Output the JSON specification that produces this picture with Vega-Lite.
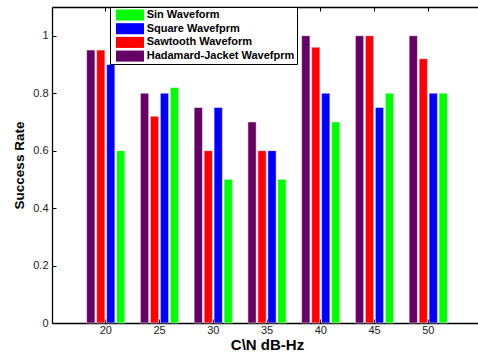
{
  "$schema": "https://vega.github.io/schema/vega-lite/v6.json",
  "width": 426,
  "height": 316,
  "autosize": {"type": "none"},
  "padding": {"left": 52, "top": 7, "right": 0, "bottom": 30},
  "background": "white",
  "config": {
    "view": {"stroke": null},
    "font": "Liberation Sans",
    "axis": {"grid": false, "domainColor": "black", "domainWidth": 1.3, "tickColor": "black", "labelColor": "#222222", "labelFont": "Liberation Sans", "titleFont": "Liberation Sans", "titleColor": "black"}
  },
  "data": {
    "values": [
      {"cn": 20, "series": "Hadamard-Jacket Wavefprm", "rate": 0.95},
      {"cn": 20, "series": "Sawtooth Waveform", "rate": 0.95},
      {"cn": 20, "series": "Square Wavefprm", "rate": 0.9},
      {"cn": 20, "series": "Sin Waveform", "rate": 0.6},
      {"cn": 25, "series": "Hadamard-Jacket Wavefprm", "rate": 0.8},
      {"cn": 25, "series": "Sawtooth Waveform", "rate": 0.72},
      {"cn": 25, "series": "Square Wavefprm", "rate": 0.8},
      {"cn": 25, "series": "Sin Waveform", "rate": 0.82},
      {"cn": 30, "series": "Hadamard-Jacket Wavefprm", "rate": 0.75},
      {"cn": 30, "series": "Sawtooth Waveform", "rate": 0.6},
      {"cn": 30, "series": "Square Wavefprm", "rate": 0.75},
      {"cn": 30, "series": "Sin Waveform", "rate": 0.5},
      {"cn": 35, "series": "Hadamard-Jacket Wavefprm", "rate": 0.7},
      {"cn": 35, "series": "Sawtooth Waveform", "rate": 0.6},
      {"cn": 35, "series": "Square Wavefprm", "rate": 0.6},
      {"cn": 35, "series": "Sin Waveform", "rate": 0.5},
      {"cn": 40, "series": "Hadamard-Jacket Wavefprm", "rate": 1.0},
      {"cn": 40, "series": "Sawtooth Waveform", "rate": 0.96},
      {"cn": 40, "series": "Square Wavefprm", "rate": 0.8},
      {"cn": 40, "series": "Sin Waveform", "rate": 0.7},
      {"cn": 45, "series": "Hadamard-Jacket Wavefprm", "rate": 1.0},
      {"cn": 45, "series": "Sawtooth Waveform", "rate": 1.0},
      {"cn": 45, "series": "Square Wavefprm", "rate": 0.75},
      {"cn": 45, "series": "Sin Waveform", "rate": 0.8},
      {"cn": 50, "series": "Hadamard-Jacket Wavefprm", "rate": 1.0},
      {"cn": 50, "series": "Sawtooth Waveform", "rate": 0.92},
      {"cn": 50, "series": "Square Wavefprm", "rate": 0.8},
      {"cn": 50, "series": "Sin Waveform", "rate": 0.8}
    ]
  },
  "layer": [
    {
      "mark": {"type": "bar", "stroke": "white", "strokeWidth": 0.5},
      "encoding": {
        "x": {
          "field": "cn", "type": "ordinal",
          "scale": {"paddingInner": 0, "paddingOuter": 0.5, "range": [0, 430]},
          "axis": {"title": "C\\N dB-Hz", "labelAngle": 0, "labelFontSize": 11, "tickSize": -4, "labelPadding": 5, "titleFontSize": 15, "titleFontWeight": "bold", "titlePadding": 2}
        },
        "xOffset": {
          "field": "series", "type": "nominal",
          "scale": {"domain": ["Hadamard-Jacket Wavefprm", "Sawtooth Waveform", "Square Wavefprm", "Sin Waveform"], "paddingInner": 0.17, "paddingOuter": 0.78}
        },
        "y": {
          "field": "rate", "type": "quantitative",
          "scale": {"domain": [0, 1.1], "nice": false},
          "axis": {"title": "Success Rate", "values": [0, 0.2, 0.4, 0.6, 0.8, 1], "format": ".2~f", "labelFontSize": 11, "tickSize": -4, "labelPadding": 8, "titleFontSize": 13.5, "titleFontWeight": "bold", "titlePadding": 6}
        },
        "color": {
          "field": "series", "type": "nominal",
          "scale": {"domain": ["Sin Waveform", "Square Wavefprm", "Sawtooth Waveform", "Hadamard-Jacket Wavefprm"], "range": ["#00ff00", "#0000ff", "#ff0000", "#660066"]},
          "legend": {
            "title": null, "orient": "none", "legendX": 58, "legendY": 0,
            "symbolType": "M-2.33,-0.92H2.33V0.92H-2.33Z", "symbolSize": 144, "symbolStrokeWidth": 0, "symbolOpacity": 1, "symbolOffset": 12,
            "labelFontSize": 11, "labelFontWeight": "bold", "labelColor": "black", "labelOffset": 10.7,
            "rowPadding": 1.7, "padding": 2, "strokeColor": "black", "fillColor": "white"
          }
        }
      }
    },
    {
      "mark": {"type": "tick", "opacity": 0},
      "encoding": {
        "x": {
          "field": "cn", "type": "ordinal",
          "axis": {"orient": "top", "title": null, "labels": false, "tickSize": -4}
        }
      }
    }
  ],
  "resolve": {"axis": {"x": "independent"}}
}
